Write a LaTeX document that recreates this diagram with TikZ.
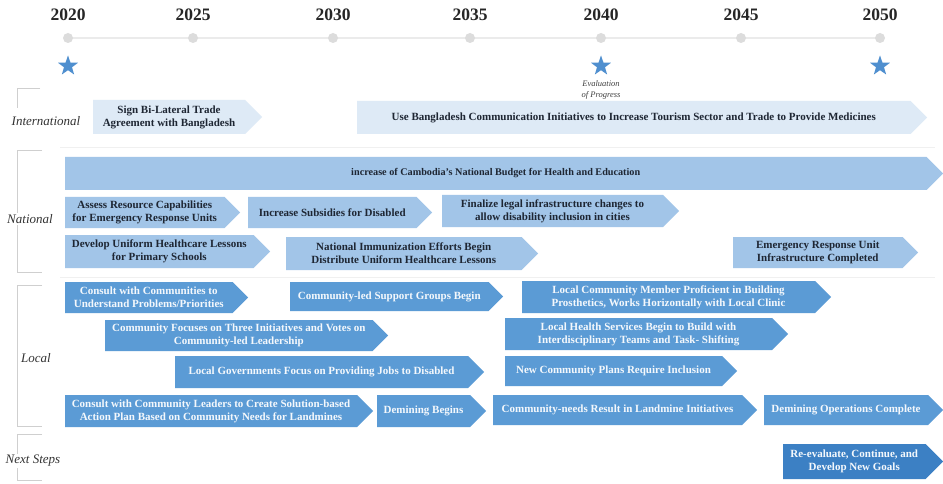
\documentclass[tikz,border=0pt]{standalone}
\usepackage{fontspec}
\setmainfont{Liberation Serif}
\usetikzlibrary{shapes.geometric}

\definecolor{intlfill}{HTML}{DEEAF6}
\definecolor{intltext}{HTML}{1E2633}
\definecolor{natlfill}{HTML}{A2C5E8}
\definecolor{natltext}{HTML}{1E2633}
\definecolor{localfill}{HTML}{5B9BD5}
\definecolor{localtext}{HTML}{F4F8FC}
\definecolor{nextfill}{HTML}{3C80C4}
\definecolor{nexttext}{HTML}{F4F8FC}
\definecolor{starblue}{HTML}{4F8FCF}
\definecolor{dotgray}{HTML}{DCDCDC}
\definecolor{bracketgray}{HTML}{CFCFCF}

\tikzset{
  x=1pt, y=-1pt,
  barlabel/.style={inner sep=0pt, align=center,
    font=\bfseries\fontsize{11}{12.8}\selectfont},
  yearlabel/.style={font=\bfseries\fontsize{17.5}{19}\selectfont, text=black!85},
  tierlabel/.style={font=\itshape\fontsize{13}{15}\selectfont, fill=white,
    inner sep=1pt, text=black!80},
  yeardot/.style={circle, fill=dotgray, minimum size=10pt, inner sep=0pt},
  milestar/.style={star, star points=5, star point ratio=2.5, fill=starblue,
    minimum size=21pt, inner sep=0pt},
  bracket/.style={draw=bracketgray, line width=0.9pt},
  separator/.style={draw=black!6, line width=1pt},
}

% \tlbar{name}{tier}{left x}{tip x}{top y}{bottom y}{text}
\newcommand\tlbar[7]{%
  \pgfmathsetmacro\tlh{(#6-#5)/2}%
  \pgfmathsetmacro\tlm{(#5+#6)/2}%
  \pgfmathsetmacro\tlb{#4-\tlh}%
  \fill[#2fill] (#3,#5) -- (\tlb,#5) -- (#4,\tlm) -- (\tlb,#6) -- (#3,#6) -- cycle;
  \node[barlabel, text=#2text] (#1) at ({(#3+\tlb)/2},\tlm) {#7};
}

\begin{document}
\begin{tikzpicture}
\useasboundingbox[fill=white] (0,0) rectangle (943,484);

% ---- time axis ----
\foreach \yr/\xx in {2020/68,2025/193,2030/333,2035/470,2040/601,2045/741,2050/880} {
  \node[yearlabel] (y\yr) at (\xx,15) {\yr};
  \coordinate (d\yr) at (\xx,38);
}
\draw[draw=black!8, line width=1.2pt] (d2020) -- (d2050);
\foreach \yr in {2020,2025,2030,2035,2040,2045,2050} {
  \node[yeardot] (dot\yr) at (d\yr) {};
}
\node[milestar] (s2020) at (68,66) {};
\node[milestar] (s2040) at (601,66) {};
\node[milestar] (s2050) at (880,66) {};
\node[font=\itshape\fontsize{8.5}{11}\selectfont, align=center, text=black!75]
  (evalnote) at (601,90) {Evaluation\\of Progress};

% ---- tier separators ----
\draw[separator] (60,148) -- (935,148);
\draw[separator] (60,277) -- (935,277);

% ---- tier brackets ----
\draw[bracket] (40,88) -- (17,88) -- (17,108);
\draw[bracket] (42,150) -- (17,150) -- (17,272) -- (42,272);
\draw[bracket] (42,285) -- (17,285) -- (17,426) -- (42,426);
\draw[bracket] (42,434) -- (17,434) -- (17,480) -- (42,480);
\node[tierlabel] (tintl) at (46,121) {International};
\node[tierlabel] (tnatl) at (30,219) {National};
\node[tierlabel] (tlocal) at (36,358) {Local};
\node[tierlabel] (tnext) at (33,461) {Next Steps};

% ---- international ----
\tlbar{i1}{intl}{93}{262}{100}{134}{Sign Bi-Lateral Trade\\Agreement with Bangladesh}
\tlbar{i2}{intl}{357}{927}{101}{134}{Use Bangladesh Communication Initiatives to Increase Tourism Sector and Trade to Provide Medicines}

% ---- national ----
\tlbar{n1}{natl}{65}{943}{157}{190}{\fontsize{10.2}{12}\selectfont increase of Cambodia's National Budget for Health and Education}
\tlbar{n2}{natl}{65}{240}{197}{228}{Assess Resource Capabilities\\for Emergency Response Units}
\tlbar{n3}{natl}{248}{432}{197}{228}{Increase Subsidies for Disabled}
\tlbar{n4}{natl}{442}{679}{195}{227}{Finalize legal infrastructure changes to\\allow disability inclusion in cities}
\tlbar{n5}{natl}{65}{270}{235}{268}{Develop Uniform Healthcare Lessons\\for Primary Schools}
\tlbar{n6}{natl}{286}{538}{237}{270}{National Immunization Efforts Begin\\Distribute Uniform Healthcare Lessons}
\tlbar{n7}{natl}{733}{918}{237}{268}{Emergency Response Unit\\Infrastructure Completed}

% ---- local ----
\tlbar{l1}{local}{65}{248}{282}{313}{Consult with Communities to\\Understand Problems/Priorities}
\tlbar{l2}{local}{290}{503}{282}{311}{Community-led Support Groups Begin}
\tlbar{l3}{local}{522}{831}{281}{313}{Local Community Member Proficient in Building\\Prosthetics, Works Horizontally with Local Clinic}
\tlbar{l4}{local}{105}{388}{320}{351}{Community Focuses on Three Initiatives and Votes on\\Community-led Leadership}
\tlbar{l5}{local}{505}{788}{318}{350}{Local Health Services Begin to Build with\\Interdisciplinary Teams and Task- Shifting}
\tlbar{l6}{local}{175}{484}{356}{388}{Local Governments Focus on Providing Jobs to Disabled}
\tlbar{l7}{local}{505}{737}{356}{386}{New Community Plans Require Inclusion}
\tlbar{l8}{local}{65}{373}{395}{427}{Consult with Community Leaders to Create Solution-based\\Action Plan Based on Community Needs for Landmines}
\tlbar{l9}{local}{377}{486}{395}{427}{Demining Begins}
\tlbar{l10}{local}{493}{757}{395}{425}{Community-needs Result in Landmine Initiatives}
\tlbar{l11}{local}{764}{943}{395}{425}{Demining Operations Complete}

% ---- next steps ----
\tlbar{x1}{next}{783}{943}{444}{479}{Re-evaluate, Continue, and\\Develop New Goals}
\end{tikzpicture}
\end{document}
